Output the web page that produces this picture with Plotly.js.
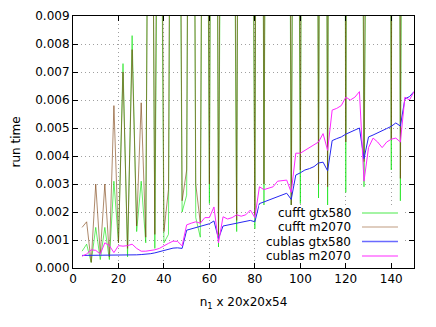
<!DOCTYPE html>
<html>
<head>
<meta charset="utf-8">
<script src="https://cdn.plot.ly/plotly-3.0.1.min.js"></script>
<style>
  html, body { margin: 0; padding: 0; background: #fff; }
  #chart { width: 436px; height: 327px; }
</style>
</head>
<body>
<div id="chart"></div>
<script>
// n1 values (x axis)
var n1 = [4, 6, 8, 10, 12, 14, 16, 18, 20, 22, 24, 26, 28, 30, 32, 34, 36, 38, 40, 42,
    44, 46, 48, 50, 52, 54, 56, 58, 60, 62, 64, 66, 68, 70, 72, 74, 76, 78, 80, 82,
    84, 86, 88, 90, 92, 94, 96, 98, 100, 102, 104, 106, 108, 110, 112, 114, 116, 118, 120, 122,
    124, 126, 128, 130, 132, 134, 136, 138, 140, 142, 144, 146, 148, 150];

// run times (values above 0.009 run off the top)
var cufftGtx580 = [0.0006, 0.00085, 0.0002, 0.00145, 0.0003, 0.00145, 0.0003, 0.0031, 0.0009, 0.0073,
    0.0004, 0.0083, 0.0013, 0.0031, 0.0009, 0.031, 0.0007, 0.024, 0.0009, 0.0012,
    0.036, 0.028, 0.002, 0.0026, 0.042, 0.0018, 0.0011, 0.033, 0.0023, 0.045,
    0.00075, 0.029, 0.038, 0.026, 0.0013, 0.047, 0.035, 0.031, 0.0014, 0.052,
    0.0022, 0.039, 0.044, 0.03, 0.055, 0.041, 0.0013, 0.036, 0.0023, 0.048,
    0.043, 0.058, 0.0025, 0.05, 0.0021, 0.06, 0.049, 0.062, 0.0027, 0.066,
    0.053, 0.04, 0.0029, 0.057, 0.051, 0.068, 0.059, 0.061, 0.0035, 0.07,
    0.0024, 0.055, 0.072, 0.06];

var cufftM2070 = [0.00145, 0.00165, 0.0002, 0.003, 0.0005, 0.003, 0.0004, 0.0058, 0.0009, 0.007,
    0.0007, 0.0078, 0.0015, 0.0059, 0.0011, 0.028, 0.0012, 0.03, 0.0013, 0.0028,
    0.04, 0.033, 0.0024, 0.0035, 0.038, 0.003, 0.0016, 0.036, 0.003, 0.05,
    0.0012, 0.034, 0.041, 0.03, 0.0017, 0.05, 0.039, 0.034, 0.0019, 0.057,
    0.003, 0.043, 0.048, 0.034, 0.06, 0.045, 0.0021, 0.04, 0.0035, 0.052,
    0.047, 0.063, 0.003, 0.055, 0.0029, 0.065, 0.054, 0.067, 0.0045, 0.072,
    0.058, 0.045, 0.0038, 0.062, 0.056, 0.074, 0.064, 0.067, 0.0046, 0.076,
    0.0032, 0.06, 0.078, 0.066];

var cublasGtx580 = [0.00045, 0.00045, 0.00045, 0.00045, 0.00045, 0.00045, 0.00045, 0.00046, 0.00046, 0.00046,
    0.00046, 0.00047, 0.00047, 0.00048, 0.00049, 0.00051, 0.00054, 0.00058, 0.00062, 0.00067,
    0.00071, 0.00072, 0.0007, 0.00135, 0.0014, 0.00145, 0.0015, 0.00155, 0.00158, 0.00168,
    0.00105, 0.0015, 0.00153, 0.00156, 0.00159, 0.00162, 0.00165, 0.0017, 0.00165, 0.0023,
    0.00236, 0.00242, 0.00248, 0.00254, 0.0026, 0.00267, 0.00245, 0.00332, 0.0034, 0.0035,
    0.00355, 0.00362, 0.00375, 0.00378, 0.00347, 0.00455, 0.00462, 0.00468, 0.00478, 0.00485,
    0.00492, 0.005, 0.0039, 0.00468, 0.00475, 0.00482, 0.0049, 0.00498, 0.00506, 0.00518,
    0.00507, 0.00604, 0.00612, 0.0063];

var cublasM2070 = [0.00042, 0.0005, 0.00065, 0.00063, 0.0005, 0.0009, 0.0008, 0.00055, 0.0008, 0.00078,
    0.0008, 0.00085, 0.0007, 0.0006, 0.0006, 0.00062, 0.00065, 0.0007, 0.0008, 0.00088,
    0.00096, 0.00095, 0.00079, 0.00154, 0.0016, 0.00165, 0.0016, 0.0018, 0.0018, 0.00218,
    0.0009, 0.00183, 0.00175, 0.0018, 0.0019, 0.00185, 0.0019, 0.00207, 0.0018, 0.0029,
    0.0028, 0.00285, 0.0029, 0.0031, 0.00312, 0.00314, 0.0027, 0.0041, 0.0041, 0.0042,
    0.0043, 0.0044, 0.0045, 0.0048, 0.0042, 0.00564, 0.0057, 0.0058, 0.0061, 0.006,
    0.0061, 0.0063, 0.0031, 0.0043, 0.00464, 0.0045, 0.0043, 0.0045, 0.0046, 0.00464,
    0.0045, 0.0061, 0.006, 0.0063];

var seriesNames = ['cufft gtx580', 'cufft m2070', 'cublas gtx580', 'cublas m2070'];
var lineColors = ['rgba(0,225,0,0.6)', 'rgba(120,60,10,0.6)', '#2626f2', '#ff26ff'];
var keyColors = ['#86f086', '#d4bcaa', '#6a6aff', '#ff70ff'];
var seriesData = [cufftGtx580, cufftM2070, cublasGtx580, cublasM2070];

var font = 'DejaVu Sans, sans-serif';

var data = seriesData.map(function(ys, i) {
    return {
        x: n1,
        y: ys,
        name: seriesNames[i],
        type: 'scatter',
        mode: 'lines',
        line: { color: lineColors[i], width: 1 },
        hoverinfo: 'skip'
    };
});

// gnuplot style key: white box, text right aligned, sample line on the right
var keyTextX = 0.821, keyLineX0 = 0.8475, keyLineX1 = 0.953;
var keyRows = [0.218, 0.163, 0.105, 0.048];

var shapes = [{
    type: 'rect', xref: 'paper', yref: 'paper',
    x0: 0.545, x1: 0.971, y0: 0.02, y1: 0.25,
    fillcolor: '#ffffff', line: { width: 0 }, layer: 'above'
}];
var annotations = [];
seriesNames.forEach(function(name, i) {
    annotations.push({
        xref: 'paper', yref: 'paper', x: keyTextX, y: keyRows[i],
        xanchor: 'right', yanchor: 'middle', showarrow: false,
        text: name, font: { family: font, size: 12, color: '#000' }
    });
    shapes.push({
        type: 'line', xref: 'paper', yref: 'paper',
        x0: keyLineX0, x1: keyLineX1, y0: keyRows[i], y1: keyRows[i],
        line: { color: keyColors[i], width: 1.5 }, layer: 'above'
    });
});

var axisCommon = {
    showline: true,
    linecolor: '#000',
    linewidth: 1,
    mirror: 'ticks',
    ticks: 'inside',
    ticklen: 5,
    tickcolor: '#000',
    showgrid: true,
    gridcolor: '#a0a0a0',
    griddash: '1px,3px',
    gridwidth: 1,
    zeroline: false,
    tickfont: { family: font, size: 12, color: '#000' }
};

var layout = {
    width: 436,
    height: 327,
    margin: { l: 73, r: 22, t: 16, b: 59 },
    paper_bgcolor: '#fff',
    plot_bgcolor: '#fff',
    showlegend: false,
    font: { family: font, size: 12, color: '#000' },
    xaxis: Object.assign({}, axisCommon, {
        range: [0, 150],
        tickvals: [0, 20, 40, 60, 80, 100, 120, 140],
        title: { text: 'n<sub>1</sub> x 20x20x54', font: { family: font, size: 12 }, standoff: 12 }
    }),
    yaxis: Object.assign({}, axisCommon, {
        range: [0, 0.009],
        dtick: 0.001,
        tickformat: '.3f',
        title: { text: 'run time', font: { family: font, size: 12 }, standoff: 12 }
    }),
    shapes: shapes,
    annotations: annotations
};

Plotly.newPlot('chart', data, layout, { staticPlot: true, displayModeBar: false });
</script>
</body>
</html>
